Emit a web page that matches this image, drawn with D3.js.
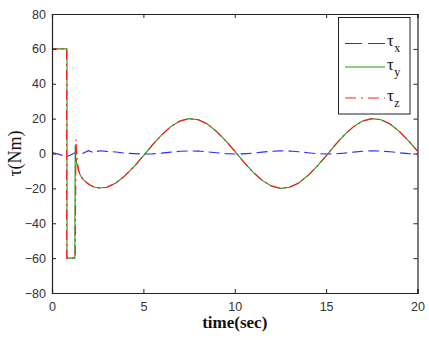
<!DOCTYPE html>
<html>
<head>
<meta charset="utf-8">
<script src="https://cdn.jsdelivr.net/npm/d3@7"></script>
<style>
html,body{margin:0;padding:0;background:#fff;}
svg{display:block;}
</style>
</head>
<body>
<svg id="c" width="429" height="340"></svg>
<script>
// ---- data ----
const xTicks = [0, 5, 10, 15, 20];
const yTicks = [-80, -60, -40, -20, 0, 20, 40, 60, 80];

// tau_x (blue dashed)
const tauXTime = [0, 0.4, 0.8, 1.0, 1.25, 1.6, 2.0, 2.3, 2.6, 3.0, 3.5, 4.0, 4.5, 5.0, 5.5, 6.0, 6.5, 7.0, 7.5, 8.0, 8.5, 9.0, 9.5, 10.0, 10.5, 11.0, 11.5, 12.0, 12.5, 13.0, 13.5, 14.0, 14.5, 15.0, 15.5, 16.0, 16.5, 17.0, 17.5, 18.0, 18.5, 19.0, 19.5, 20.0];
const tauXValue = [0.5, -0.5, -1.8, -1.0, 0.4, -0.3, 1.6, 0.4, 1.6, 1.2, 0.9, 0.2, -0.06, -0.29, -0.19, 0.22, 0.77, 1.26, 1.49, 1.39, 0.98, 0.43, -0.06, -0.29, -0.19, 0.22, 0.77, 1.26, 1.49, 1.39, 0.98, 0.43, -0.06, -0.29, -0.19, 0.22, 0.77, 1.26, 1.49, 1.39, 0.98, 0.43, -0.06, -0.29];

// tau_y (green solid)
const tauYTime = [0, 0.001, 0.82, 0.821, 1.25, 1.27, 1.30, 1.36, 1.45, 1.55, 1.7, 1.9, 2.1, 2.3, 2.6, 3.0, 3.5, 4.0, 4.5, 5.0, 5.5, 6.0, 6.5, 7.0, 7.5, 8.0, 8.5, 9.0, 9.5, 10.0, 10.5, 11.0, 11.5, 12.0, 12.5, 13.0, 13.5, 14.0, 14.5, 15.0, 15.5, 16.0, 16.5, 17.0, 17.5, 18.0, 18.5, 19.0, 19.5, 20.0];
const tauYValue = [0, 60, 60, -60, -60, 5, -2, -6, -10, -12.5, -14.8, -16.8, -18.2, -19.2, -19.8, -19.4, -16.9, -12.7, -7.4, -1.3, 5.0, 10.7, 15.4, 18.6, 20.0, 19.4, 16.9, 12.7, 7.4, 1.3, -5.0, -10.7, -15.4, -18.6, -20.0, -19.4, -16.9, -12.7, -7.4, -1.3, 5.0, 10.7, 15.4, 18.6, 20.0, 19.4, 16.9, 12.7, 7.4, 1.3];

// tau_z (red dash-dot)
const tauZTime = [0, 0.001, 0.80, 0.801, 1.27, 1.31, 1.34, 1.40, 1.48, 1.58, 1.7, 1.9, 2.1, 2.3, 2.6, 3.0, 3.5, 4.0, 4.5, 5.0, 5.5, 6.0, 6.5, 7.0, 7.5, 8.0, 8.5, 9.0, 9.5, 10.0, 10.5, 11.0, 11.5, 12.0, 12.5, 13.0, 13.5, 14.0, 14.5, 15.0, 15.5, 16.0, 16.5, 17.0, 17.5, 18.0, 18.5, 19.0, 19.5, 20.0];
const tauZValue = [0, 60, 60, -60, -60, 8, 1, -6, -10.5, -13, -14.8, -16.8, -18.2, -19.2, -19.8, -19.4, -16.9, -12.7, -7.4, -1.3, 5.0, 10.7, 15.4, 18.6, 20.0, 19.4, 16.9, 12.7, 7.4, 1.3, -5.0, -10.7, -15.4, -18.6, -20.0, -19.4, -16.9, -12.7, -7.4, -1.3, 5.0, 10.7, 15.4, 18.6, 20.0, 19.4, 16.9, 12.7, 7.4, 1.3];

const seriesNames = ["x", "y", "z"];

// ---- drawing ----
const svg = d3.select("#c");
const L = 52, R = 417.5, T = 14, B = 293;
const x = d3.scaleLinear().domain([0, 20]).range([L, R]);
const y = d3.scaleLinear().domain([-80, 80]).range([B, T]);

const toPts = (ts, vs) => ts.map((t, i) => [t, vs[i]]);
const line = d3.line().x(d => x(d[0])).y(d => y(d[1]));

const clip = svg.append("clipPath").attr("id", "pc").append("rect")
  .attr("x", L).attr("y", T).attr("width", R - L).attr("height", B - T);

const styles = [
  {c: "#2b2bff", dash: "11,5", w: 1.1},
  {c: "#1a9a1a", dash: null, w: 1.1},
  {c: "#ff2020", dash: "10,4,2,4", w: 1.2}
];
const data = [toPts(tauXTime, tauXValue), toPts(tauYTime, tauYValue), toPts(tauZTime, tauZValue)];

const g = svg.append("g").attr("clip-path", "url(#pc)");
data.forEach((d, i) => {
  g.append("path").datum(d).attr("d", line)
    .attr("fill", "none").attr("stroke", styles[i].c)
    .attr("stroke-width", styles[i].w)
    .attr("stroke-dasharray", styles[i].dash);
});

// axes (ticks inward, box)
const tickLen = 4;
const font = "'Liberation Sans', Arial, sans-serif";
const axB = svg.append("g").attr("transform", `translate(0,${B})`)
  .call(d3.axisBottom(x).tickValues(xTicks).tickSize(-tickLen).tickPadding(7).tickFormat(d3.format("d")));
const axT = svg.append("g").attr("transform", `translate(0,${T})`)
  .call(d3.axisTop(x).tickValues(xTicks).tickSize(-tickLen).tickFormat(""));
const axL = svg.append("g").attr("transform", `translate(${L},0)`)
  .call(d3.axisLeft(y).tickValues(yTicks).tickSize(-tickLen).tickPadding(6).tickFormat(d3.format("d")));
const axR = svg.append("g").attr("transform", `translate(${R},0)`)
  .call(d3.axisRight(y).tickValues(yTicks).tickSize(-tickLen).tickFormat(""));
[axB, axT, axL, axR].forEach(a => {
  a.select(".domain").attr("stroke", "#222").attr("stroke-width", 1.2);
  a.selectAll(".tick line").attr("stroke", "#222");
  a.selectAll("text").attr("font-family", font).attr("font-size", 12.5).attr("fill", "#333");
});
axB.selectAll("text").attr("dy", "0.9em");
// ensure outer tick of domain lines doesn't stick out
[axB, axT, axL, axR].forEach(a => a.select(".domain").attr("d", function(){
  return this.getAttribute("d").replace(/^M[^H V]*/, m => m);
}));

// axis labels
svg.append("text").attr("x", (L + R) / 2).attr("y", 328)
  .attr("text-anchor", "middle").attr("font-family", "'Liberation Serif', 'Times New Roman', serif")
  .attr("font-weight", "bold").attr("font-size", 17).attr("fill", "#111").text("time(sec)");
svg.append("text").attr("transform", `translate(21,${(T + B) / 2}) rotate(-90)`)
  .attr("text-anchor", "middle").attr("font-family", "'Liberation Serif', 'Times New Roman', serif")
  .attr("font-size", 18).attr("fill", "#111").text("τ(Nm)");

// legend
const lg = svg.append("g");
lg.append("rect").attr("x", 338.5).attr("y", 17.5).attr("width", 71.5).attr("height", 96.5)
  .attr("fill", "#fff").attr("stroke", "#222").attr("stroke-width", 1);
const ly = [43.5, 67, 98];
seriesNames.forEach((n, i) => {
  lg.append("line").attr("x1", 345).attr("x2", 385).attr("y1", ly[i]).attr("y2", ly[i])
    .attr("stroke", styles[i].c).attr("stroke-width", styles[i].w)
    .attr("stroke-dasharray", i === 0 ? "17,6" : (i === 2 ? "11,5,2,5" : null));
  const t = lg.append("text").attr("x", 387).attr("y", ly[i] + 2.5)
    .attr("font-family", "'Liberation Serif', 'Times New Roman', serif").attr("font-size", 17).attr("fill", "#111");
  t.append("tspan").text("τ");
  t.append("tspan").attr("font-size", 12).attr("dy", 6).attr("dx", 0.5).text(n);
});
</script>
</body>
</html>
